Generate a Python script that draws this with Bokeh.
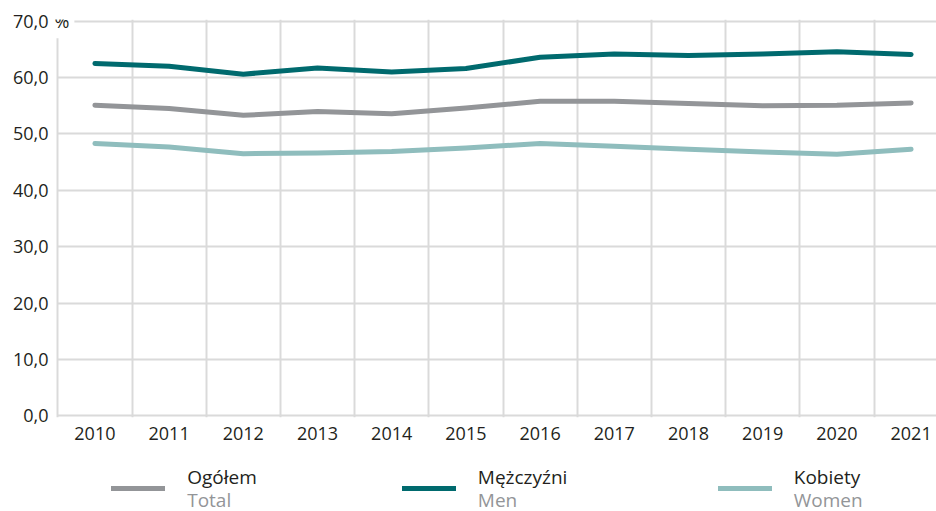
from bokeh.plotting import figure
from bokeh.models import FixedTicker, Legend, LegendItem, Label, Range1d, Grid
from bokeh.layouts import column
from bokeh.embed import file_html
from bokeh.resources import INLINE

# ---- data ----
years = [2010, 2011, 2012, 2013, 2014, 2015, 2016, 2017, 2018, 2019, 2020, 2021]
year_labels = ["2010", "2011", "2012", "2013", "2014", "2015",
               "2016", "2017", "2018", "2019", "2020", "2021"]
total = [55.1, 54.5, 53.3, 54.0, 53.6, 54.6, 55.8, 55.8, 55.4, 55.0, 55.1, 55.5]
men = [62.5, 62.0, 60.6, 61.7, 61.0, 61.6, 63.6, 64.2, 63.9, 64.2, 64.6, 64.1]
women = [48.3, 47.7, 46.5, 46.6, 46.9, 47.5, 48.3, 47.8, 47.3, 46.8, 46.4, 47.3]
y_ticks = [0, 10, 20, 30, 40, 50, 60, 70]
y_tick_labels = ["0,0", "10,0", "20,0", "30,0", "40,0", "50,0", "60,0", "70,0"]
unit_label = "%"
names_pl = ["Ogółem", "Mężczyźni", "Kobiety"]
names_en = ["Total", "Men", "Women"]
colors = ["#939598", "#006a6e", "#8fbdbd"]
series = [total, men, women]

FONT = "Open Sans"
DARK = "#231f20"
GREY_TXT = "#939598"
GRID = "#dadada"

W = 936
H_MAIN = 452
H_LEG = 511 - H_MAIN
LEFT = 52

px_per_year = 74.2
x_start = 2009.5 - (57.3 - LEFT) / px_per_year
x_end = x_start + (W - LEFT) / px_per_year

p = figure(width=W, height=H_MAIN,
           x_range=Range1d(x_start, x_end),
           y_range=Range1d(-0.3, 70.3),
           output_backend="svg", toolbar_location=None,
           min_border_left=LEFT, min_border_right=0,
           min_border_top=19, min_border_bottom=H_MAIN - 19 - 398)
p.outline_line_color = None
p.background_fill_color = "white"
p.border_fill_color = "white"

# axes
p.xaxis.ticker = FixedTicker(ticks=years)
p.xaxis.major_label_overrides = {y: l for y, l in zip(years, year_labels)}
p.yaxis.ticker = FixedTicker(ticks=y_ticks)
p.yaxis.major_label_overrides = {t: l for t, l in zip(y_ticks, y_tick_labels)}
for ax in (p.xaxis, p.yaxis):
    ax.axis_line_color = None
    ax.major_tick_line_color = None
    ax.minor_tick_line_color = None
    ax.major_tick_out = 0
    ax.major_tick_in = 0
    ax.major_label_text_font = FONT
    ax.major_label_text_font_size = "18px"
    ax.major_label_text_color = DARK
p.xaxis.major_label_standoff = 9
p.yaxis.major_label_standoff = 4

# grids
p.xgrid.ticker = FixedTicker(ticks=[y - 0.5 for y in years])
p.ygrid.ticker = FixedTicker(ticks=y_ticks)
for g in (p.xgrid, p.ygrid):
    g.grid_line_color = GRID
    g.grid_line_width = 2
if "cross_bounds" in Grid.properties():
    p.ygrid.cross_bounds = (years[0] - 0.5, x_end)

# unit sign next to the top tick label
p.add_layout(Label(x=x_start, y=y_ticks[-1], x_offset=-3,
                   text=unit_label, text_font=FONT, text_font_size="18px",
                   text_color=DARK, text_baseline="middle", text_align="left",
                   background_fill_color="white", padding=5))

# series
for vals, c in zip(series, colors):
    p.line(years, vals, line_color=c, line_width=5,
           line_cap="round", line_join="round")

# ---- legend strip (x = page px, y = px below top of strip) ----
q = figure(width=W, height=H_LEG, x_range=Range1d(LEFT, W), y_range=Range1d(H_LEG, 0),
           output_backend="svg", toolbar_location=None,
           x_axis_type=None, y_axis_type=None,
           min_border_left=LEFT, min_border_right=0, min_border_top=0, min_border_bottom=0)
q.outline_line_color = None
q.grid.visible = False

leg_x = [110.8, 401.8, 717.5]     # swatch box left edges
txt_x = [186.7, 477.3, 793.3]     # text left edges
pl_y, en_y, sw_y = 24, 47, 35.5   # centres, px below top of strip

for vals, c, lx, tx, pl, en in zip(series, colors, leg_x, txt_x, names_pl, names_en):
    rr = q.line(years, vals, line_color=c, line_width=5,
                line_cap="round", line_join="round")
    leg = Legend(items=[LegendItem(label=" ", renderers=[rr])],
                 location=(lx - LEFT, H_LEG - sw_y - 10), glyph_width=54, glyph_height=20,
                 padding=0, margin=0, spacing=0, label_standoff=0,
                 label_width=0, label_height=0, label_text_font_size="1px",
                 border_line_color=None, background_fill_alpha=0)
    q.add_layout(leg)
    q.add_layout(Label(x=tx, y=pl_y, text=pl, text_font=FONT, text_font_size="19px",
                       text_color=DARK, text_baseline="middle", text_align="left"))
    q.add_layout(Label(x=tx, y=en_y, text=en, text_font=FONT, text_font_size="19px",
                       text_color=GREY_TXT, text_baseline="middle", text_align="left"))

layout = column(p, q, spacing=0)
open("out.html", "w").write(file_html(layout, INLINE))
